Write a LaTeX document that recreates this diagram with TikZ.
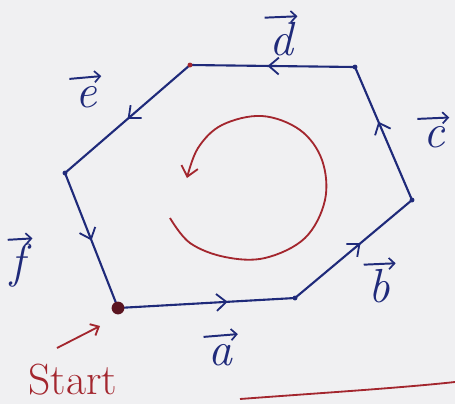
\documentclass[tikz,border=0pt]{standalone}
\usetikzlibrary{arrows.meta,decorations.markings}
\definecolor{ink}{HTML}{1F2A7A}
\definecolor{redink}{HTML}{A3262E}
\definecolor{paper}{HTML}{F0F0F2}
\definecolor{dotred}{HTML}{5A1420}
\tikzset{
  edge/.style={draw=ink, line width=1.5pt},
  midarrow/.style={postaction={decorate}, decoration={markings, mark=at position #1 with {\arrow{Straight Barb[length=7pt,width=12pt,line width=1.3pt]}}}},
  lab/.style={text=ink, font=\fontsize{34}{36}\selectfont\itshape, inner sep=0pt},
  vecarrow/.style={draw=ink, line width=1.4pt, -{Straight Barb[length=4pt,width=8pt,line width=1.2pt]}},
  vdot/.style={circle, fill=ink, inner sep=0pt, minimum size=3.5pt},
  redpen/.style={draw=redink, line width=1.3pt},
}
\begin{document}
\begin{tikzpicture}[x=0.025cm,y=-0.025cm]
\useasboundingbox (0,0) rectangle (455,404);
\fill[paper] (0,0) rectangle (455,404);
% vertices
\coordinate (S) at (118,308);
\coordinate (P1) at (295,298);
\coordinate (P2) at (412,200);
\coordinate (P3) at (355,67);
\coordinate (P4) at (190,65);
\coordinate (P5) at (65,173);
% edges
\draw[edge, midarrow=0.62] (S) -- (P1);
\draw[edge, midarrow=0.56] (P1) -- (P2);
\draw[edge, midarrow=0.59] (P2) -- (P3);
\draw[edge, midarrow=0.53] (P3) -- (P4);
\draw[edge, midarrow=0.50] (P4) -- (P5);
\draw[edge, midarrow=0.50] (P5) -- (S);
% vertex dots
\node[vdot] (d1) at (P1) {};
\node[vdot] (d2) at (P2) {};
\node[vdot] (d3) at (P3) {};
\node[vdot, fill=redink] (d4) at (P4) {};
\node[vdot] (d5) at (P5) {};
\node[circle, fill=dotred, inner sep=0pt, minimum size=0.32cm] (sd) at (S) {};
% labels
\node[lab] (la) at (220,355) {a};
\node[lab] (lb) at (379,286) {b};
\node[lab] (lc) at (434,137) {c};
\node[lab] (ld) at (281,39) {d};
\node[lab] (le) at (86,97) {e};
\node[lab] (lf) at (18,266) {f};
\draw[vecarrow] ([xshift=-3pt,yshift=5pt]la.north west) -- ([xshift=4pt,yshift=7pt]la.north east);
\draw[vecarrow] ([xshift=-3pt,yshift=3pt]lb.north west) -- ([xshift=4pt,yshift=4pt]lb.north east);
\draw[vecarrow] ([xshift=-4pt,yshift=5pt]lc.north west) -- ([xshift=3pt,yshift=6pt]lc.north east);
\draw[vecarrow] ([xshift=-3pt,yshift=3pt]ld.north west) -- ([xshift=3pt,yshift=4pt]ld.north east);
\draw[vecarrow] ([xshift=-4pt,yshift=5pt]le.north west) -- ([xshift=3pt,yshift=7pt]le.north east);
\draw[vecarrow] ([xshift=-2pt,yshift=3pt]lf.north west) -- ([xshift=5pt,yshift=4pt]lf.north east);
% red rotation arrow
\draw[redpen, -{Straight Barb[length=7pt,width=12pt]}] plot[smooth, tension=0.6] coordinates {(170,218) (190,243) (225,257) (265,258) (305,238) (325,200) (322,160) (300,130) (262,116) (222,125) (198,148) (187,178)};
% start label
\node[text=redink, font=\fontsize{31}{33}\selectfont, inner sep=0pt] (st) at (73,380) {Start};
\coordinate (sa1) at (57,348);
\coordinate (sa2) at (100,326);
\draw[redpen, -{Straight Barb[length=5pt,width=9pt]}] (sa1) -- (sa2);
% bottom red line
\coordinate (bl1) at (240,399);
\coordinate (bl2) at (455,382);
\draw[redpen] (bl1) .. controls (320,393) and (400,388) .. (bl2);
\end{tikzpicture}
\end{document}
